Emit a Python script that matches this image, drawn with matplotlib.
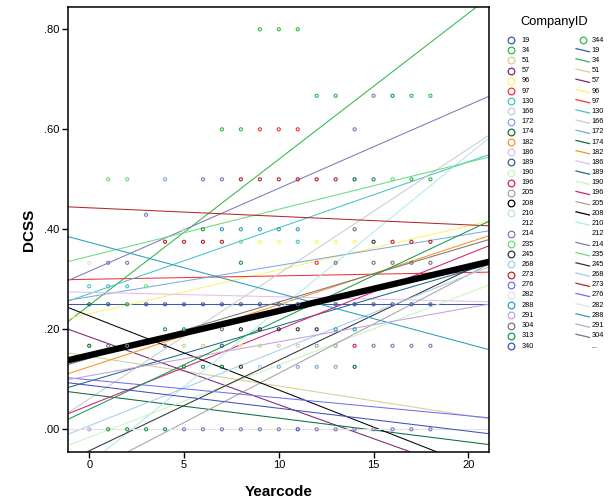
import matplotlib
matplotlib.use("Agg")
import matplotlib.pyplot as plt
import numpy as np

plt.rcParams['font.family'] = ['Liberation Sans', 'DejaVu Sans']

# ---------------- data ----------------
companies = [19, 34, 51, 57, 96, 97, 130, 166, 172, 174, 182, 186, 189, 190, 196,
             205, 208, 210, 212, 214, 235, 245, 268, 273, 276, 282, 288, 291, 304,
             313, 340, 344]
colors = ['#3E58AC', '#2EB848', '#D3CE97', '#7C2479', '#F9F56A', '#EF3338', '#48C2C5',
          '#CCCCCC', '#7CAADD', '#0B6E3C', '#FA9220', '#E0BEF0', '#22678A', '#C8F5C0',
          '#D11E74', '#A4A4A4', '#000000', '#B2E8EE', None, '#7C79B7', '#6ADC7E',
          '#333333', '#A3CCF0', '#B4262C', '#6E6EF5', '#E2E2E2', '#2A9DC0', '#C4A2D8',
          '#767676', '#1A9A4C', '#3F51BB', '#3CB64B']

# fitted lines per company (intercept at Yearcode=0, slope per year)
line_company = [19, 34, 51, 57, 96, 97, 130, 166, 172, 174, 182, 186, 189, 190, 196,
                205, 208, 210, 214, 235, 245, 268, 273, 276, 282, 288, 291, 304, 313, 340]
line_intercept = [0.250, 0.248, 0.146, 0.185, 0.231, 0.300, 0.271, 0.061, 0.265, 0.070,
                  0.125, 0.274, 0.096, -0.016, 0.048, -0.085, 0.227, -0.069, 0.316, 0.346,
                  -0.043, 0.007, 0.443, 0.099, 0.000, 0.374, 0.107, 0.142, 0.040, 0.088]
line_slope = [0.0, 0.0292, -0.00594, -0.01358, 0.00878, 0.00068, 0.0132, 0.0250, 0.00626,
              -0.00477, 0.01243, -0.0009, 0.0111, 0.01445, 0.01513, 0.0197, -0.01484,
              0.0309, 0.0166, 0.00941, 0.0181, 0.01508, -0.00171, -0.0036, 0.0, -0.01018,
              0.0068, 0.01126, 0.01783, -0.00459]

# overall fit
total_intercept = 0.148
total_slope = 0.00887

# observed points
point_company = (
    [34, 34, 34] +
    [34, 34, 214, 313, 344, 344] +
    [34, 34, 97, 97, 97, 214] +
    [235, 235, 172, 214, 214, 273, 273, 273, 273, 273, 273, 174, 313, 235, 344, 344] +
    [214] +
    [282, 313, 288, 288, 288, 288, 288, 304] +
    [273, 273, 273, 273, 235, 96, 96, 130, 96, 96, 96, 245, 273, 273, 273] +
    [282, 214, 214, 313, 97, 304, 304, 304, 304, 304] +
    [130, 130, 130, 235] +
    [174, 189, 313] + [19] * 8 + [19] * 7 +
    [313, 313, 304, 245, 245, 245, 245, 245, 288, 288] +
    [174, 304, 304, 304, 51, 51, 189, 96, 51, 51, 51, 205, 205, 196, 214, 214, 214, 214] +
    [313, 313, 174, 245, 268, 172, 172, 172, 172, 174] +
    [291, 313, 313, 313, 313, 214, 214, 214, 214, 214, 214, 340, 214, 214, 214, 214, 214, 214, 214]
)
point_year = (
    [9, 10, 11] +
    [12, 13, 15, 16, 17, 18] +
    [7, 8, 9, 10, 11, 14] +
    [1, 2, 4, 6, 7, 8, 9, 10, 11, 12, 13, 14, 15, 16, 17, 18] +
    [3] +
    [5, 6, 7, 8, 9, 10, 11, 14] +
    [4, 5, 6, 7, 8, 9, 10, 11, 12, 13, 14, 15, 16, 17, 18] +
    [0, 1, 2, 8, 12, 13, 15, 16, 17, 18] +
    [0, 1, 2, 3] +
    [0, 1, 2, 3, 4, 5, 6, 7, 8, 9, 10, 11, 13, 14, 15, 16, 17, 18] +
    [4, 5, 7, 8, 9, 10, 11, 12, 13, 14] +
    [0, 1, 2, 4, 5, 6, 7, 8, 9, 10, 11, 12, 13, 14, 15, 16, 17, 18] +
    [5, 6, 7, 8, 9, 10, 11, 12, 13, 14] +
    [0, 1, 2, 3, 4, 5, 6, 7, 8, 9, 10, 11, 12, 13, 14, 15, 16, 17, 18]
)
point_dcss = (
    [0.8] * 3 + [0.667] * 6 + [0.6] * 6 + [0.5] * 16 + [0.429] * 1 + [0.4] * 8 +
    [0.375] * 15 + [0.333] * 10 + [0.286] * 4 + [0.25] * 18 + [0.2] * 10 +
    [0.167] * 18 + [0.125] * 10 + [0.0] * 19
)

x_ticks = [0, 5, 10, 15, 20]
y_ticks = [0.0, 0.2, 0.4, 0.6, 0.8]
y_tick_labels = ['.00', '.20', '.40', '.60', '.80']
legend_line_companies = companies[:29]   # 19 ... 304, then "..."

# ---------------- figure ----------------
col = dict(zip(companies, colors))
fig = plt.figure(figsize=(6.09, 5.01), dpi=100)
ax = fig.add_axes([68 / 609, 1 - 451.7 / 501, (489 - 68) / 609, (451.7 - 7.3) / 501])
ax.set_xlim(-1.12, 21.09)
ax.set_ylim(-0.0448, 0.844)

for c, b, m in zip(line_company, line_intercept, line_slope):
    ax.axline((0, b), slope=m, color=col[c], lw=0.75, zorder=2)
ax.axline((0, total_intercept), slope=total_slope, color='black', lw=4.6, zorder=3)

ax.scatter(point_year, point_dcss, s=5, facecolors='none',
           edgecolors=[col[c] for c in point_company], linewidths=0.8, zorder=4)

ax.set_xticks(x_ticks)
ax.set_xticklabels([str(v) for v in x_ticks])
ax.set_yticks(y_ticks)
ax.set_yticklabels(y_tick_labels)
ax.tick_params(direction='out', length=4, width=1, labelsize=8, pad=2, colors='black')
for s in ax.spines.values():
    s.set_linewidth(1.1)
ax.set_xlabel('Yearcode', fontsize=11, fontweight='bold', labelpad=11)
ax.set_ylabel('DCSS', fontsize=11, fontweight='bold', labelpad=6)

# ---------------- legend (pixel coordinates) ----------------
lax = fig.add_axes([490 / 609, 0, 119 / 609, 1])
lax.set_xlim(490, 609)
lax.set_ylim(501, 0)
lax.axis('off')
lax.text(554, 21.7, 'CompanyID', fontsize=9.3, ha='center', va='center')
row0, dy = 40.0, 10.2
for i, c in enumerate(companies[:31]):
    y = row0 + i * dy
    if col[c] is not None:
        lax.plot([510.7], [y], 'o', ms=4.8, mfc='none', mec=col[c], mew=0.9)
    lax.text(521.7, y, str(c), fontsize=5.3, ha='left', va='center')
lax.plot([583], [row0], 'o', ms=4.8, mfc='none', mec=col[344], mew=0.9)
lax.text(591.7, row0, '344', fontsize=5.3, ha='left', va='center')
for j, c in enumerate(legend_line_companies):
    y = row0 + (j + 1) * dy
    if col[c] is not None:
        lax.plot([576, 589.5], [y - 1.6, y + 1.6], color=col[c], lw=0.9)
    lax.text(591.7, y, str(c), fontsize=5.3, ha='left', va='center')
lax.text(591.7, row0 + 30 * dy, '...', fontsize=5.3, ha='left', va='center')

fig.savefig('out.png', dpi=100)
